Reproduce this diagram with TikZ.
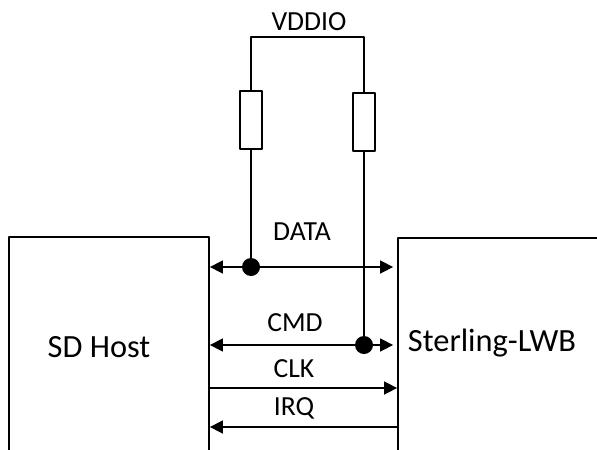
\documentclass[tikz,border=0pt]{standalone}
\usepackage{fontspec}
\setmainfont{Carlito}
\usetikzlibrary{arrows.meta}
\begin{document}
\begin{tikzpicture}[x=0.5pt, y=-0.5pt, line join=round, >={Triangle[length=6.5pt,width=6.5pt]}]
\tikzset{blk/.style={draw, line width=0.9pt, inner sep=0pt, minimum height=121pt},
  res/.style={draw, line width=1.4pt, minimum width=11pt, minimum height=29pt, inner sep=0pt},
  dot/.style={circle, fill, inner sep=0pt, minimum size=9pt},
  sig/.style={font=\fontsize{13.8}{16}\selectfont},
  wire/.style={line width=0.75pt}}
\fill[white] (0,0) rectangle (597,449);
\useasboundingbox (0,0) rectangle (597,449);
\clip (0,0) rectangle (597,449);
% the two blocks, cut at the page edge
\node[blk, minimum width=100pt] (host) at (109,358) {};
\node[blk, minimum width=201pt] (dev) at (599,359) {};
\node[font=\fontsize{16.2}{19}\selectfont] (hostlbl) at (99,347) {SD Host};
\node[font=\fontsize{16.2}{19}\selectfont] (devlbl) at (492,343) {Sterling-LWB};
% pull-ups
\node[res] (r1) at (251,120) {};
\node[res] (r2) at (364,122) {};
\node[sig] (vdd) at (309,22) {VDDIO};
\coordinate (top1) at (251,37); \coordinate (top2) at (364,37);
\draw[wire] (r1.north)--(top1)--(top2)--(r2.north);
\node[dot] (d1) at (251,267) {};
\node[dot] (d2) at (364,345) {};
\draw[wire] (r1.south)--(d1);
\draw[wire] (r2.south)--(d2);
% bus lines
\coordinate (clk) at (300,388); \coordinate (irq) at (300,427);
\draw[wire,<->,shorten >=2pt] (host.east |- d1)--(dev.west |- d1);
\draw[wire,<->,shorten >=2pt] (host.east |- d2)--(dev.west |- d2);
\draw[wire,->] (host.east |- clk)--(dev.west |- clk);
\draw[wire,<-] (host.east |- irq)--(dev.west |- irq);
\node[sig] (datalbl) at (302,232) {DATA};
\node[sig] (cmdlbl) at (295,323) {CMD};
\node[sig] (clklbl) at (294,369) {CLK};
\node[sig] (irqlbl) at (294,408) {IRQ};
\end{tikzpicture}
\end{document}
